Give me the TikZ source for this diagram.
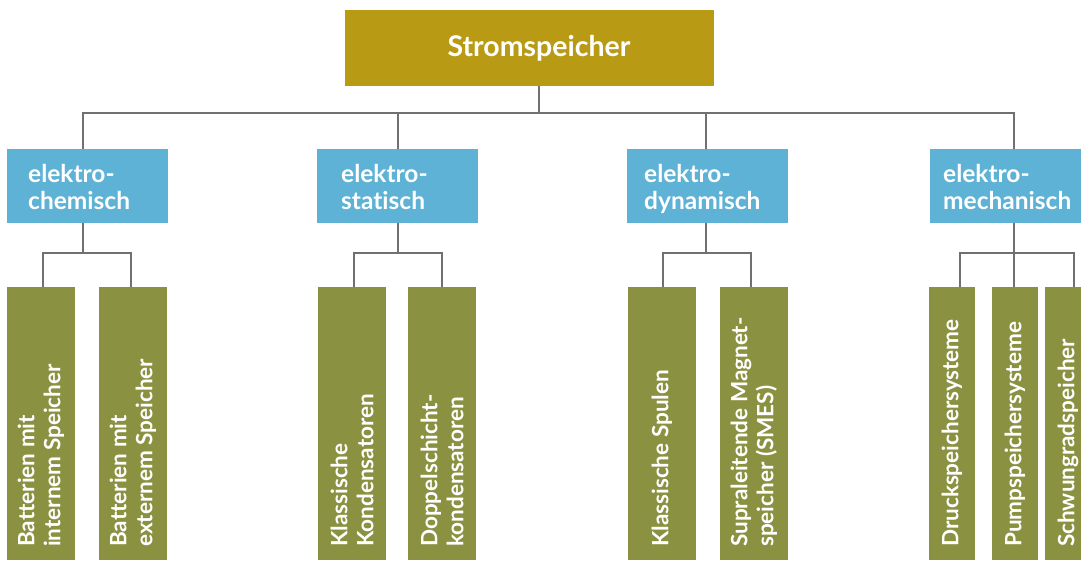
\documentclass[tikz,border=0pt]{standalone}
\usepackage{fontspec}
\setmainfont{Lato}[Ligatures=NoCommon]
\definecolor{gold}{HTML}{B99A14}
\definecolor{skyb}{HTML}{5EB2D5}
\definecolor{olivegr}{HTML}{8A9140}
\definecolor{linegray}{HTML}{707070}
\begin{document}
\begin{tikzpicture}[x=1pt,y=-1pt,
  box/.style={draw=none, inner sep=0pt, outer sep=0pt, anchor=north west},
  topbox/.style={box, fill=gold, minimum width=369pt, minimum height=76pt},
  catbox/.style={box, fill=skyb, minimum width=161pt, minimum height=74pt},
  leafbox/.style={box, fill=olivegr, minimum width=68pt, minimum height=273pt},
  conn/.style={draw=linegray, line width=2.8pt},
  toplbl/.style={text=white, inner sep=0pt, font={\fontsize{28.5}{32}\selectfont\bfseries}},
  catlbl/.style={text=white, inner sep=0pt, anchor=north west, align=left, font={\fontsize{24.5}{27}\selectfont\bfseries}},
  leaflbl/.style={text=white, inner sep=0pt, anchor=west, rotate=90, align=left, font={\fontsize{22.5}{26}\selectfont\bfseries}}]
\useasboundingbox (0,0) rectangle (1081,560);
\clip (0,0) rectangle (1081,560);

% boxes
\node[topbox] (top) at (345,10) {};
\node[catbox] (b1) at (7,149) {};
\node[catbox] (b2) at (317,149) {};
\node[catbox] (b3) at (627,149) {};
\node[catbox, minimum width=168pt] (b4) at (930,149) {};

\node[leafbox] (g1) at (7,287) {};
\node[leafbox] (g2) at (99,287) {};
\node[leafbox] (g3) at (318,287) {};
\node[leafbox] (g4) at (408,287) {};
\node[leafbox] (g5) at (628,287) {};
\node[leafbox] (g6) at (720,287) {};
\node[leafbox, minimum width=46pt] (g7) at (929,287) {};
\node[leafbox, minimum width=46pt] (g8) at (992,287) {};
\node[leafbox, minimum width=46pt] (g9) at (1045,287) {};

% junction coordinates
\coordinate (h0) at (539,113);
\coordinate (h1) at (83,113);
\coordinate (h2) at (398,113);
\coordinate (h3) at (706,113);
\coordinate (h4) at (1014,113);

\coordinate (c1) at (83,253);
\coordinate (c2) at (398,253);
\coordinate (c3) at (706,253);
\coordinate (c4) at (1014,253);

\coordinate (l1) at (43,253);  \coordinate (r1) at (131,253);
\coordinate (l2) at (354,253); \coordinate (r2) at (442,253);
\coordinate (l3) at (663,253); \coordinate (r3) at (751,253);
\coordinate (l4) at (960,253); \coordinate (r4) at (1074,253);

% connectors
\draw[conn] (h0 |- top.south) -- (h0);
\draw[conn] (h1 |- b1.north) -- (h1) -- (h4) -- (h4 |- b4.north);
\draw[conn] (h2) -- (h2 |- b2.north);
\draw[conn] (h3) -- (h3 |- b3.north);

\draw[conn] (c1 |- b1.south) -- (c1);
\draw[conn] (c2 |- b2.south) -- (c2);
\draw[conn] (c3 |- b3.south) -- (c3);
\draw[conn] (c4 |- b4.south) -- (c4 |- g8.north);

\draw[conn] (l1 |- g1.north) -- (l1) -- (r1) -- (r1 |- g2.north);
\draw[conn] (l2 |- g3.north) -- (l2) -- (r2) -- (r2 |- g4.north);
\draw[conn] (l3 |- g5.north) -- (l3) -- (r3) -- (r3 |- g6.north);
\draw[conn] (l4 |- g7.north) -- (l4) -- (r4) -- (r4 |- g9.north);

% labels
\node[toplbl] (ttop) at (539,48) {Stromspeicher};
\node[catlbl] (tb1) at (28,164) {elektro-\\chemisch};
\node[catlbl] (tb2) at (341,164) {elektro-\\statisch};
\node[catlbl] (tb3) at (644,164) {elektro-\\dynamisch};
\node[catlbl] (tb4) at (943,164) {elektro-\\mechanisch};

\node[leaflbl] (tg1) at ([yshift=13pt]g1.south) {Batterien mit\\internem Speicher};
\node[leaflbl] (tg2) at ([yshift=13pt]g2.south) {Batterien mit\\externem Speicher};
\node[leaflbl] (tg3) at ([yshift=13pt]g3.south) {Klassische\\Kondensatoren};
\node[leaflbl] (tg4) at ([yshift=13pt]g4.south) {Doppelschicht-\\kondensatoren};
\node[leaflbl] (tg5) at ([yshift=13pt]g5.south) {Klassische Spulen};
\node[leaflbl] (tg6) at ([yshift=13pt]g6.south) {Supraleitende Magnet-\\speicher (SMES)};
\node[leaflbl] (tg7) at ([yshift=13pt]g7.south) {Druckspeichersysteme};
\node[leaflbl] (tg8) at ([yshift=13pt]g8.south) {Pumpspeichersysteme};
\node[leaflbl] (tg9) at ([yshift=13pt]g9.south) {Schwungradspeicher};
\end{tikzpicture}
\end{document}
